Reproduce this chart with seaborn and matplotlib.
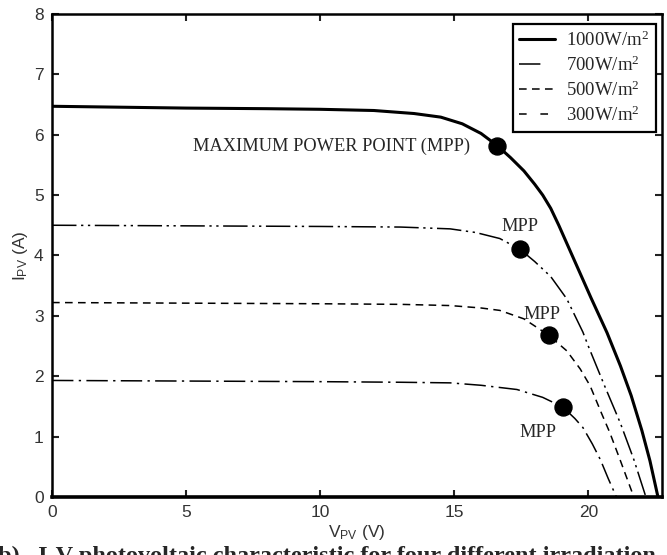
#Importing libraries
import pandas as pd
import matplotlib
matplotlib.use("Agg")
import matplotlib.pyplot as plt
from matplotlib.lines import Line2D
import seaborn as sns
import numpy as np

#Values (voltage in V, current in A)
V1000 = [0, 5, 8, 10, 12, 13.5, 14.5, 15.3, 16.0, 16.6, 17.1, 17.6, 18.0, 18.3, 18.6, 18.9, 19.3, 20.1, 20.7, 21.2, 21.6, 22.0, 22.3, 22.6]
I1000 = [6.47, 6.44, 6.43, 6.42, 6.40, 6.35, 6.29, 6.18, 6.02, 5.82, 5.62, 5.40, 5.18, 5.00, 4.78, 4.50, 4.10, 3.30, 2.72, 2.17, 1.68, 1.10, 0.60, 0.0]

V700 = [0, 5, 10, 13, 14.85, 15.8, 16.7, 17.46, 18.0, 18.6, 19.2, 19.8, 20.0, 20.6, 21.2, 21.7, 22.15]
I700 = [4.50, 4.49, 4.48, 4.47, 4.44, 4.38, 4.28, 4.10, 3.90, 3.65, 3.28, 2.73, 2.50, 1.85, 1.22, 0.62, 0.0]

V500 = [0, 5, 10, 13, 14.85, 16.0, 16.7, 17.6, 18.52, 19.2, 19.7, 20.07, 20.5, 20.8, 21.2, 21.7]
I500 = [3.22, 3.21, 3.20, 3.19, 3.17, 3.13, 3.09, 2.95, 2.68, 2.42, 2.12, 1.84, 1.38, 1.07, 0.60, 0.0]

V300 = [0, 5, 10, 13, 14.85, 16.0, 17.34, 18.3, 19.05, 19.5, 19.8, 20.15, 20.45, 20.75, 21.05]
I300 = [1.93, 1.92, 1.91, 1.90, 1.89, 1.85, 1.78, 1.65, 1.49, 1.30, 1.15, 0.88, 0.62, 0.30, 0.0]

#Maximum power points
MppV = [16.6, 17.46, 18.52, 19.05]
MppI = [5.82, 4.10, 2.68, 1.49]

Labels = [r"1000W/m$^\mathrm{2}$", r"700W/m$^\mathrm{2}$", r"500W/m$^\mathrm{2}$", r"300W/m$^\mathrm{2}$"]

#Style
sns.set_style("ticks")
plt.rcParams["font.family"] = ["Liberation Sans", "DejaVu Sans"]
plt.rcParams["mathtext.fontset"] = "custom"
plt.rcParams["mathtext.rm"] = "Liberation Serif"
plt.rcParams["mathtext.it"] = "Liberation Serif:italic"
plt.rcParams["mathtext.sf"] = "Liberation Sans"

fig = plt.figure(figsize=(6.67, 5.55), dpi=100)
ax = fig.add_axes([0.078, 0.1045, 0.9145, 0.8705])

#Drawing the four curves
sns.lineplot(x=V1000, y=I1000, ax=ax, color="k", lw=2.2, sort=False)
sns.lineplot(x=V700, y=I700, ax=ax, color="k", lw=1.1, sort=False,
             linestyle=(0, (16, 3, 1.5, 3, 1.5, 3)))
sns.lineplot(x=V500, y=I500, ax=ax, color="k", lw=1.1, sort=False,
             linestyle=(0, (5, 3.5)))
sns.lineplot(x=V300, y=I300, ax=ax, color="k", lw=1.1, sort=False,
             linestyle=(0, (14, 3.5, 1.5, 3.5)))

#MPP markers
sns.scatterplot(x=MppV, y=MppI, ax=ax, color="k", edgecolor="k", s=150, zorder=5)

serif = ["Liberation Serif", "DejaVu Serif"]
ax.text(15.6, 5.8, "MAXIMUM POWER POINT (MPP)", ha="right", va="center", fontsize=13.2, family=serif)
ax.text(17.46, 4.48, "MPP", ha="center", va="center", fontsize=13.2, family=serif)
ax.text(18.27, 3.02, "MPP", ha="center", va="center", fontsize=13.2, family=serif)
ax.text(18.13, 1.07, "MPP", ha="center", va="center", fontsize=13.2, family=serif)

#Axes
ax.set_xlim(0, 22.75)
ax.set_ylim(0, 8)
ax.set_xticks([0, 5, 10, 15, 20])
ax.set_yticks(range(0, 9))
ax.tick_params(direction="in", length=5, width=1.5, top=True, right=True,
               labelsize=12.5, pad=6, colors="#222222", labelcolor="#333333")
for side in ["left", "top", "right"]:
    ax.spines[side].set_linewidth(1.8)
    ax.spines[side].set_color("k")
ax.spines["bottom"].set_linewidth(2.6)
ax.spines["bottom"].set_color("k")
ax.set_xlabel(r"$\mathsf{V_{PV}}$ (V)", fontsize=12.5, labelpad=2, color="#333333")
ax.set_ylabel(r"$\mathsf{I_{PV}}$ (A)", fontsize=12.5, labelpad=3, color="#333333")

#Legend with the dash patterns of the original
handles = [Line2D([], [], color="k", lw=2.2),
           Line2D([], [], color="k", lw=1.1, linestyle=(0, (14, 20))),
           Line2D([], [], color="k", lw=1.1, linestyle=(0, (5, 3.5))),
           Line2D([], [], color="k", lw=1.1, linestyle=(0, (5, 9)))]
leg = ax.legend(handles, Labels, loc="upper right", bbox_to_anchor=(0.99, 0.979),
                borderaxespad=0, fancybox=False, framealpha=1, edgecolor="k",
                prop={"family": serif, "size": 13.5}, handlelength=1.9,
                handletextpad=0.6, labelspacing=0.3, borderpad=0.35)
leg.get_frame().set_linewidth(1.6)

#Cut-off caption at the bottom
fig.text(-0.003, 0.016, "b).  I-V photovoltaic characteristic for four different irradiation",
         va="top", ha="left", fontsize=17.5, family=serif, fontweight="bold")

fig.savefig("out.png", dpi=100)
